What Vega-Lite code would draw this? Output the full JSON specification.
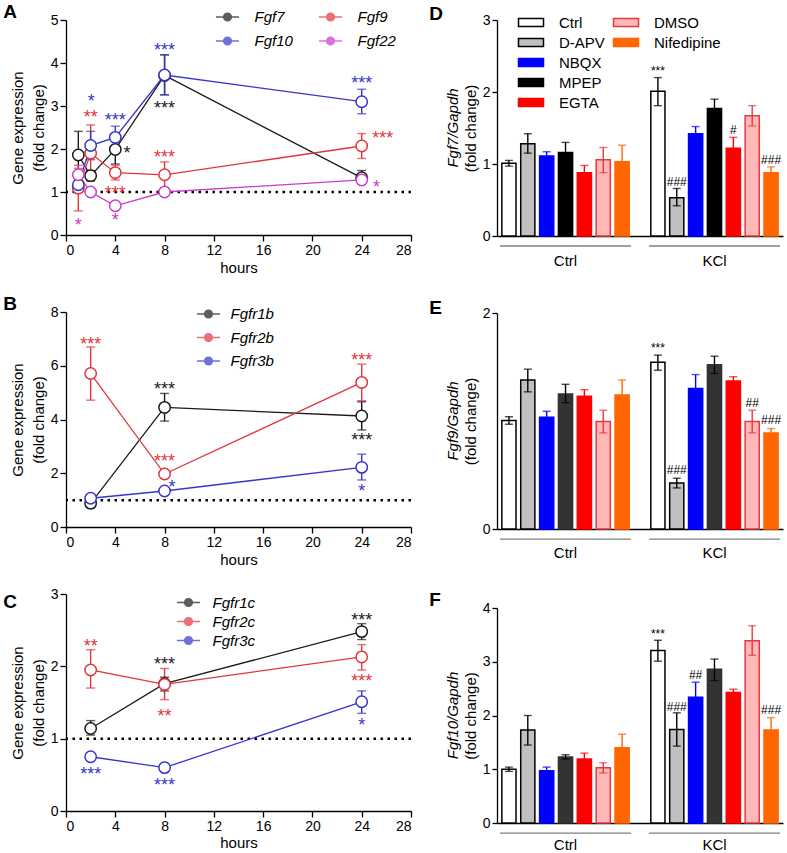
{
"$schema": "https://vega.github.io/schema/vega-lite/v6.json",
"padding": {"left": 3, "top": 3, "right": 2, "bottom": 0},
"config": {
  "font": "Liberation Sans",
  "view": {"stroke": null},
  "axis": {"grid": false, "domainColor": "#000", "tickColor": "#000", "labelColor": "#000", "titleColor": "#000", "labelFontSize": 14, "titleFontSize": 15, "titleFontWeight": "normal", "tickSize": 6, "domainWidth": 1.3, "tickWidth": 1.3, "labelPadding": 2},
  "legend": {"labelColor": "#000", "labelFont": "Liberation Sans"},
  "title": {"color": "#000", "font": "Liberation Sans"}
},
"datasets": {
  "A": [
    {"gene": "Fgf7", "h": 1, "m": 1.86, "lo": 1.33, "hi": 2.41},
    {"gene": "Fgf7", "h": 2, "m": 1.38, "lo": 1.26, "hi": 1.5},
    {"gene": "Fgf7", "h": 4, "m": 1.99, "lo": 1.65, "hi": 2.3},
    {"gene": "Fgf7", "h": 8, "m": 3.71, "lo": 3.26, "hi": 4.19},
    {"gene": "Fgf7", "h": 24, "m": 1.33, "lo": 1.23, "hi": 1.5},
    {"gene": "Fgf9", "h": 1, "m": 1.09, "lo": 0.56, "hi": 1.62},
    {"gene": "Fgf9", "h": 2, "m": 1.9, "lo": 1.26, "hi": 2.56},
    {"gene": "Fgf9", "h": 4, "m": 1.45, "lo": 1.28, "hi": 1.62},
    {"gene": "Fgf9", "h": 8, "m": 1.4, "lo": 1.1, "hi": 1.7},
    {"gene": "Fgf9", "h": 24, "m": 2.07, "lo": 1.78, "hi": 2.36},
    {"gene": "Fgf10", "h": 1, "m": 1.17, "lo": 1.0, "hi": 1.36},
    {"gene": "Fgf10", "h": 2, "m": 2.08, "lo": 1.75, "hi": 2.41},
    {"gene": "Fgf10", "h": 4, "m": 2.27, "lo": 2.05, "hi": 2.53},
    {"gene": "Fgf10", "h": 8, "m": 3.72, "lo": 3.26, "hi": 4.19},
    {"gene": "Fgf10", "h": 24, "m": 3.1, "lo": 2.82, "hi": 3.39},
    {"gene": "Fgf22", "h": 1, "m": 1.4, "lo": 1.25, "hi": 1.55},
    {"gene": "Fgf22", "h": 2, "m": 1.0, "lo": 0.93, "hi": 1.07},
    {"gene": "Fgf22", "h": 4, "m": 0.68, "lo": 0.62, "hi": 0.74},
    {"gene": "Fgf22", "h": 8, "m": 1.0, "lo": 0.97, "hi": 1.03},
    {"gene": "Fgf22", "h": 24, "m": 1.28, "lo": 1.25, "hi": 1.31}
  ],
  "As": [
    {"gene": "Fgf10", "h": 2.05, "y": 3.22, "t": "*"},
    {"gene": "Fgf9", "h": 2.0, "y": 2.84, "t": "**"},
    {"gene": "Fgf10", "h": 4.0, "y": 2.76, "t": "***"},
    {"gene": "Fgf7", "h": 4.95, "y": 1.99, "t": "*"},
    {"gene": "Fgf9", "h": 4.0, "y": 1.08, "t": "***"},
    {"gene": "Fgf22", "h": 4.0, "y": 0.44, "t": "*"},
    {"gene": "Fgf22", "h": 1.0, "y": 0.32, "t": "*"},
    {"gene": "Fgf10", "h": 8.0, "y": 4.39, "t": "***"},
    {"gene": "Fgf7", "h": 8.0, "y": 3.05, "t": "***"},
    {"gene": "Fgf9", "h": 8.0, "y": 1.91, "t": "***"},
    {"gene": "Fgf10", "h": 24.0, "y": 3.63, "t": "***"},
    {"gene": "Fgf9", "h": 25.7, "y": 2.35, "t": "***"},
    {"gene": "Fgf22", "h": 25.2, "y": 1.2, "t": "*"}
  ],
  "B": [
    {"gene": "Fgfr1b", "h": 2, "m": 0.88, "lo": 0.84, "hi": 0.92},
    {"gene": "Fgfr1b", "h": 8, "m": 4.45, "lo": 3.94, "hi": 4.97},
    {"gene": "Fgfr1b", "h": 24, "m": 4.13, "lo": 3.61, "hi": 4.66},
    {"gene": "Fgfr2b", "h": 2, "m": 5.71, "lo": 4.72, "hi": 6.7},
    {"gene": "Fgfr2b", "h": 8, "m": 1.97, "lo": 1.9, "hi": 2.05},
    {"gene": "Fgfr2b", "h": 24, "m": 5.38, "lo": 4.7, "hi": 6.06},
    {"gene": "Fgfr3b", "h": 2, "m": 1.07, "lo": 1.02, "hi": 1.12},
    {"gene": "Fgfr3b", "h": 8, "m": 1.34, "lo": 1.28, "hi": 1.4},
    {"gene": "Fgfr3b", "h": 24, "m": 2.22, "lo": 1.75, "hi": 2.71}
  ],
  "Bs": [
    {"gene": "Fgfr2b", "h": 2, "y": 6.95, "t": "***"},
    {"gene": "Fgfr1b", "h": 8, "y": 5.28, "t": "***"},
    {"gene": "Fgfr2b", "h": 8, "y": 2.61, "t": "***"},
    {"gene": "Fgfr3b", "h": 8.6, "y": 1.65, "t": "*"},
    {"gene": "Fgfr2b", "h": 24, "y": 6.36, "t": "***"},
    {"gene": "Fgfr1b", "h": 24, "y": 3.38, "t": "***"},
    {"gene": "Fgfr3b", "h": 24, "y": 1.5, "t": "*"}
  ],
  "C": [
    {"gene": "Fgfr1c", "h": 2, "m": 1.14, "lo": 1.05, "hi": 1.25},
    {"gene": "Fgfr1c", "h": 8, "m": 1.76, "lo": 1.66, "hi": 1.85},
    {"gene": "Fgfr1c", "h": 24, "m": 2.48, "lo": 2.37, "hi": 2.59},
    {"gene": "Fgfr2c", "h": 2, "m": 1.95, "lo": 1.7, "hi": 2.23},
    {"gene": "Fgfr2c", "h": 8, "m": 1.75, "lo": 1.54, "hi": 1.97},
    {"gene": "Fgfr2c", "h": 24, "m": 2.13, "lo": 1.95, "hi": 2.3},
    {"gene": "Fgfr3c", "h": 2, "m": 0.75, "lo": 0.72, "hi": 0.78},
    {"gene": "Fgfr3c", "h": 8, "m": 0.6, "lo": 0.55, "hi": 0.65},
    {"gene": "Fgfr3c", "h": 24, "m": 1.51, "lo": 1.35, "hi": 1.66}
  ],
  "Cs": [
    {"gene": "Fgfr2c", "h": 2, "y": 2.33, "t": "**"},
    {"gene": "Fgfr1c", "h": 8, "y": 2.09, "t": "***"},
    {"gene": "Fgfr2c", "h": 8, "y": 1.37, "t": "**"},
    {"gene": "Fgfr3c", "h": 2, "y": 0.57, "t": "***"},
    {"gene": "Fgfr3c", "h": 8, "y": 0.41, "t": "***"},
    {"gene": "Fgfr1c", "h": 24, "y": 2.7, "t": "***"},
    {"gene": "Fgfr2c", "h": 24, "y": 1.85, "t": "***"},
    {"gene": "Fgfr3c", "h": 24, "y": 1.25, "t": "*"}
  ],
  "D": [
    {"cond": "Ctrl", "treat": "Ctrl", "m": 1.01, "lo": 0.97, "hi": 1.05},
    {"cond": "Ctrl", "treat": "D-APV", "m": 1.28, "lo": 1.15, "hi": 1.42},
    {"cond": "Ctrl", "treat": "NBQX", "m": 1.11, "lo": 1.05, "hi": 1.17},
    {"cond": "Ctrl", "treat": "MPEP", "m": 1.16, "lo": 1.04, "hi": 1.3},
    {"cond": "Ctrl", "treat": "EGTA", "m": 0.88, "lo": 0.8, "hi": 0.98},
    {"cond": "Ctrl", "treat": "DMSO", "m": 1.06, "lo": 0.88, "hi": 1.23},
    {"cond": "Ctrl", "treat": "Nifedipine", "m": 1.03, "lo": 0.82, "hi": 1.26},
    {"cond": "KCl", "treat": "Ctrl", "m": 2.01, "lo": 1.81, "hi": 2.2},
    {"cond": "KCl", "treat": "D-APV", "m": 0.53, "lo": 0.42, "hi": 0.66},
    {"cond": "KCl", "treat": "NBQX", "m": 1.42, "lo": 1.33, "hi": 1.52},
    {"cond": "KCl", "treat": "MPEP", "m": 1.77, "lo": 1.65, "hi": 1.9},
    {"cond": "KCl", "treat": "EGTA", "m": 1.22, "lo": 1.08, "hi": 1.37},
    {"cond": "KCl", "treat": "DMSO", "m": 1.67, "lo": 1.53, "hi": 1.81},
    {"cond": "KCl", "treat": "Nifedipine", "m": 0.88, "lo": 0.8, "hi": 0.96}
  ],
  "Dn": [
    {"cond": "KCl", "treat": "Ctrl", "y": 2.23, "t": "***"},
    {"cond": "KCl", "treat": "D-APV", "y": 0.69, "t": "###"},
    {"cond": "KCl", "treat": "EGTA", "y": 1.41, "t": "#"},
    {"cond": "KCl", "treat": "Nifedipine", "y": 1.0, "t": "###"}
  ],
  "E": [
    {"cond": "Ctrl", "treat": "Ctrl", "m": 1.005, "lo": 0.97, "hi": 1.04},
    {"cond": "Ctrl", "treat": "D-APV", "m": 1.38, "lo": 1.27, "hi": 1.48},
    {"cond": "Ctrl", "treat": "NBQX", "m": 1.035, "lo": 0.98, "hi": 1.09},
    {"cond": "Ctrl", "treat": "MPEP", "m": 1.25, "lo": 1.17, "hi": 1.34},
    {"cond": "Ctrl", "treat": "EGTA", "m": 1.23, "lo": 1.17, "hi": 1.29},
    {"cond": "Ctrl", "treat": "DMSO", "m": 0.995, "lo": 0.89, "hi": 1.1},
    {"cond": "Ctrl", "treat": "Nifedipine", "m": 1.24, "lo": 1.1, "hi": 1.38},
    {"cond": "KCl", "treat": "Ctrl", "m": 1.545, "lo": 1.47, "hi": 1.61},
    {"cond": "KCl", "treat": "D-APV", "m": 0.427, "lo": 0.38, "hi": 0.47},
    {"cond": "KCl", "treat": "NBQX", "m": 1.3, "lo": 1.17, "hi": 1.43},
    {"cond": "KCl", "treat": "MPEP", "m": 1.52, "lo": 1.44, "hi": 1.6},
    {"cond": "KCl", "treat": "EGTA", "m": 1.37, "lo": 1.33, "hi": 1.41},
    {"cond": "KCl", "treat": "DMSO", "m": 0.995, "lo": 0.89, "hi": 1.1},
    {"cond": "KCl", "treat": "Nifedipine", "m": 0.89, "lo": 0.85, "hi": 0.93}
  ],
  "En": [
    {"cond": "KCl", "treat": "Ctrl", "y": 1.64, "t": "***"},
    {"cond": "KCl", "treat": "D-APV", "y": 0.51, "t": "###"},
    {"cond": "KCl", "treat": "DMSO", "y": 1.13, "t": "##"},
    {"cond": "KCl", "treat": "Nifedipine", "y": 0.97, "t": "###"}
  ],
  "F": [
    {"cond": "Ctrl", "treat": "Ctrl", "m": 1.0, "lo": 0.96, "hi": 1.04},
    {"cond": "Ctrl", "treat": "D-APV", "m": 1.73, "lo": 1.45, "hi": 2.0},
    {"cond": "Ctrl", "treat": "NBQX", "m": 0.97, "lo": 0.9, "hi": 1.04},
    {"cond": "Ctrl", "treat": "MPEP", "m": 1.23, "lo": 1.19, "hi": 1.27},
    {"cond": "Ctrl", "treat": "EGTA", "m": 1.19, "lo": 1.08, "hi": 1.3},
    {"cond": "Ctrl", "treat": "DMSO", "m": 1.03, "lo": 0.93, "hi": 1.12},
    {"cond": "Ctrl", "treat": "Nifedipine", "m": 1.4, "lo": 1.15, "hi": 1.65},
    {"cond": "KCl", "treat": "Ctrl", "m": 3.21, "lo": 3.01, "hi": 3.4},
    {"cond": "KCl", "treat": "D-APV", "m": 1.74, "lo": 1.43, "hi": 2.05},
    {"cond": "KCl", "treat": "NBQX", "m": 2.34, "lo": 2.06, "hi": 2.62},
    {"cond": "KCl", "treat": "MPEP", "m": 2.86, "lo": 2.65, "hi": 3.05},
    {"cond": "KCl", "treat": "EGTA", "m": 2.43, "lo": 2.37, "hi": 2.49},
    {"cond": "KCl", "treat": "DMSO", "m": 3.39, "lo": 3.12, "hi": 3.67},
    {"cond": "KCl", "treat": "Nifedipine", "m": 1.73, "lo": 1.5, "hi": 1.96}
  ],
  "Fn": [
    {"cond": "KCl", "treat": "Ctrl", "y": 3.44, "t": "***"},
    {"cond": "KCl", "treat": "D-APV", "y": 2.09, "t": "###"},
    {"cond": "KCl", "treat": "NBQX", "y": 2.68, "t": "##"},
    {"cond": "KCl", "treat": "Nifedipine", "y": 2.02, "t": "###"}
  ]
},
"spacing": 16,
"resolve": {"scale": {"color": "independent", "fill": "independent", "stroke": "independent", "xOffset": "independent"}, "legend": {"color": "independent", "fill": "independent", "stroke": "independent"}},
"hconcat": [
 {"spacing": 20,
  "resolve": {"scale": {"color": "independent", "fill": "independent", "stroke": "independent", "xOffset": "independent"}, "legend": {"color": "independent", "fill": "independent", "stroke": "independent"}},
  "vconcat": [
  {"width": 345, "height": 215,
   "title": {"text": "A", "anchor": "start", "frame": "bounds", "dx": -7, "offset": -15, "fontSize": 19, "fontWeight": "bold"},
   "layer": [
    {"data": {"values": [{}]}, "mark": {"type": "rule", "strokeDash": [2.5, 4.5], "strokeWidth": 2.5, "color": "#000"}, "encoding": {"y": {"datum": 1, "type": "quantitative"}}},
    {"data": {"name": "A"}, "mark": {"type": "rule", "strokeWidth": 1.4}, "encoding": {
      "x": {"field": "h", "type": "quantitative", "scale": {"domain": [0, 28], "nice": false}, "axis": {"values": [0, 4, 8, 12, 16, 20, 24, 28], "title": "hours", "titlePadding": 3}},
      "y": {"field": "lo", "type": "quantitative", "scale": {"domain": [0, 5], "nice": false}, "axis": {"values": [0, 1, 2, 3, 4, 5], "format": "d", "title": ["Gene expression", "(fold change)"], "titleLineHeight": 21, "titlePadding": 4}},
      "y2": {"field": "hi"},
      "color": {"field": "gene", "type": "nominal", "scale": {"domain": ["Fgf7", "Fgf10", "Fgf9", "Fgf22"], "range": ["#1a1a1a", "#3535cc", "#e3343c", "#c83cc8"]},
        "legend": {"orient": "none", "legendX": 151.5, "legendY": -13, "columns": 2, "title": null, "symbolType": "M-1.28,0H-0.44M0.44,0H1.28M-0.44,0A0.44,0.44 0 1,1 0.44,0A0.44,0.44 0 1,1 -0.44,0", "symbolSize": 324, "symbolStrokeWidth": 1.3, "labelFontSize": 15, "labelFontStyle": "italic", "labelOffset": 17, "columnPadding": 22, "rowPadding": 6}}}},
    {"data": {"name": "A"}, "mark": {"type": "tick", "orient": "horizontal", "size": 9, "thickness": 1.4}, "encoding": {"x": {"field": "h", "type": "quantitative"}, "y": {"field": "lo", "type": "quantitative"}, "color": {"field": "gene", "type": "nominal"}}},
    {"data": {"name": "A"}, "mark": {"type": "tick", "orient": "horizontal", "size": 9, "thickness": 1.4}, "encoding": {"x": {"field": "h", "type": "quantitative"}, "y": {"field": "hi", "type": "quantitative"}, "color": {"field": "gene", "type": "nominal"}}},
    {"data": {"name": "A"}, "mark": {"type": "line", "strokeWidth": 1.3}, "encoding": {"x": {"field": "h", "type": "quantitative"}, "y": {"field": "m", "type": "quantitative"}, "color": {"field": "gene", "type": "nominal"}}},
    {"data": {"name": "A"}, "mark": {"type": "point", "filled": false, "fill": "white", "fillOpacity": 1, "size": 130, "strokeWidth": 1.5, "opacity": 1}, "encoding": {"x": {"field": "h", "type": "quantitative"}, "y": {"field": "m", "type": "quantitative"}, "color": {"field": "gene", "type": "nominal"}}},
    {"data": {"name": "As"}, "mark": {"type": "text", "fontSize": 18, "baseline": "alphabetic", "dy": 10}, "encoding": {"x": {"field": "h", "type": "quantitative"}, "y": {"field": "y", "type": "quantitative"}, "text": {"field": "t"}, "color": {"field": "gene", "type": "nominal"}}}
   ]},
  {"width": 345, "height": 215,
   "title": {"text": "B", "anchor": "start", "frame": "bounds", "dx": -7, "offset": -10, "fontSize": 19, "fontWeight": "bold"},
   "layer": [
    {"data": {"values": [{}]}, "mark": {"type": "rule", "strokeDash": [2.5, 4.5], "strokeWidth": 2.5, "color": "#000"}, "encoding": {"y": {"datum": 1, "type": "quantitative"}}},
    {"data": {"name": "B"}, "mark": {"type": "rule", "strokeWidth": 1.4}, "encoding": {
      "x": {"field": "h", "type": "quantitative", "scale": {"domain": [0, 28], "nice": false}, "axis": {"values": [0, 4, 8, 12, 16, 20, 24, 28], "title": "hours", "titlePadding": 3}},
      "y": {"field": "lo", "type": "quantitative", "scale": {"domain": [0, 8], "nice": false}, "axis": {"values": [0, 2, 4, 6, 8], "format": "d", "title": ["Gene expression", "(fold change)"], "titleLineHeight": 21, "titlePadding": 4}},
      "y2": {"field": "hi"},
      "color": {"field": "gene", "type": "nominal", "scale": {"domain": ["Fgfr1b", "Fgfr2b", "Fgfr3b"], "range": ["#1a1a1a", "#e3343c", "#3535cc"]},
        "legend": {"orient": "none", "legendX": 132.5, "legendY": -8, "title": null, "symbolType": "M-1.28,0H-0.44M0.44,0H1.28M-0.44,0A0.44,0.44 0 1,1 0.44,0A0.44,0.44 0 1,1 -0.44,0", "symbolSize": 324, "symbolStrokeWidth": 1.3, "labelFontSize": 15, "labelFontStyle": "italic", "labelOffset": 12, "rowPadding": 5.5}}}},
    {"data": {"name": "B"}, "mark": {"type": "tick", "orient": "horizontal", "size": 9, "thickness": 1.4}, "encoding": {"x": {"field": "h", "type": "quantitative"}, "y": {"field": "lo", "type": "quantitative"}, "color": {"field": "gene", "type": "nominal"}}},
    {"data": {"name": "B"}, "mark": {"type": "tick", "orient": "horizontal", "size": 9, "thickness": 1.4}, "encoding": {"x": {"field": "h", "type": "quantitative"}, "y": {"field": "hi", "type": "quantitative"}, "color": {"field": "gene", "type": "nominal"}}},
    {"data": {"name": "B"}, "mark": {"type": "line", "strokeWidth": 1.3}, "encoding": {"x": {"field": "h", "type": "quantitative"}, "y": {"field": "m", "type": "quantitative"}, "color": {"field": "gene", "type": "nominal"}}},
    {"data": {"name": "B"}, "mark": {"type": "point", "filled": false, "fill": "white", "fillOpacity": 1, "size": 130, "strokeWidth": 1.5, "opacity": 1}, "encoding": {"x": {"field": "h", "type": "quantitative"}, "y": {"field": "m", "type": "quantitative"}, "color": {"field": "gene", "type": "nominal"}}},
    {"data": {"name": "Bs"}, "mark": {"type": "text", "fontSize": 18, "baseline": "alphabetic", "dy": 10}, "encoding": {"x": {"field": "h", "type": "quantitative"}, "y": {"field": "y", "type": "quantitative"}, "text": {"field": "t"}, "color": {"field": "gene", "type": "nominal"}}}
   ]},
  {"width": 345, "height": 217,
   "title": {"text": "C", "anchor": "start", "frame": "bounds", "dx": -7, "offset": -25, "fontSize": 19, "fontWeight": "bold"},
   "layer": [
    {"data": {"values": [{}]}, "mark": {"type": "rule", "strokeDash": [2.5, 4.5], "strokeWidth": 2.5, "color": "#000"}, "encoding": {"y": {"datum": 1, "type": "quantitative"}}},
    {"data": {"name": "C"}, "mark": {"type": "rule", "strokeWidth": 1.4}, "encoding": {
      "x": {"field": "h", "type": "quantitative", "scale": {"domain": [0, 28], "nice": false}, "axis": {"values": [0, 4, 8, 12, 16, 20, 24, 28], "title": "hours", "titlePadding": 2}},
      "y": {"field": "lo", "type": "quantitative", "scale": {"domain": [0, 3], "nice": false}, "axis": {"values": [0, 1, 2, 3], "format": "d", "title": ["Gene expression", "(fold change)"], "titleLineHeight": 21, "titlePadding": 4}},
      "y2": {"field": "hi"},
      "color": {"field": "gene", "type": "nominal", "scale": {"domain": ["Fgfr1c", "Fgfr2c", "Fgfr3c"], "range": ["#1a1a1a", "#e3343c", "#3535cc"]},
        "legend": {"orient": "none", "legendX": 112.5, "legendY": -1.5, "title": null, "symbolType": "M-1.28,0H-0.44M0.44,0H1.28M-0.44,0A0.44,0.44 0 1,1 0.44,0A0.44,0.44 0 1,1 -0.44,0", "symbolSize": 324, "symbolStrokeWidth": 1.3, "labelFontSize": 15, "labelFontStyle": "italic", "labelOffset": 14, "rowPadding": 1}}}},
    {"data": {"name": "C"}, "mark": {"type": "tick", "orient": "horizontal", "size": 9, "thickness": 1.4}, "encoding": {"x": {"field": "h", "type": "quantitative"}, "y": {"field": "lo", "type": "quantitative"}, "color": {"field": "gene", "type": "nominal"}}},
    {"data": {"name": "C"}, "mark": {"type": "tick", "orient": "horizontal", "size": 9, "thickness": 1.4}, "encoding": {"x": {"field": "h", "type": "quantitative"}, "y": {"field": "hi", "type": "quantitative"}, "color": {"field": "gene", "type": "nominal"}}},
    {"data": {"name": "C"}, "mark": {"type": "line", "strokeWidth": 1.3}, "encoding": {"x": {"field": "h", "type": "quantitative"}, "y": {"field": "m", "type": "quantitative"}, "color": {"field": "gene", "type": "nominal"}}},
    {"data": {"name": "C"}, "mark": {"type": "point", "filled": false, "fill": "white", "fillOpacity": 1, "size": 130, "strokeWidth": 1.5, "opacity": 1}, "encoding": {"x": {"field": "h", "type": "quantitative"}, "y": {"field": "m", "type": "quantitative"}, "color": {"field": "gene", "type": "nominal"}}},
    {"data": {"name": "Cs"}, "mark": {"type": "text", "fontSize": 18, "baseline": "alphabetic", "dy": 10}, "encoding": {"x": {"field": "h", "type": "quantitative"}, "y": {"field": "y", "type": "quantitative"}, "text": {"field": "t"}, "color": {"field": "gene", "type": "nominal"}}}
   ]}
 ]},
 {"spacing": 31,
  "resolve": {"scale": {"color": "independent", "fill": "independent", "stroke": "independent", "xOffset": "independent"}, "legend": {"color": "independent", "fill": "independent", "stroke": "independent"}},
  "vconcat": [
  {"title": {"text": "D", "anchor": "start", "frame": "bounds", "dx": -17, "offset": -12, "fontSize": 19, "fontWeight": "bold"},
   "vconcat": [{
    "width": 286, "height": 216,
    "title": {"text": "Fgf7/Gapdh", "orient": "left", "anchor": "middle", "fontStyle": "italic", "fontWeight": "normal", "fontSize": 15, "offset": 2},
    "resolve": {"scale": {"fill": "independent", "stroke": "independent"}},
    "layer": [
     {"data": {"values": [{"cond": "Ctrl"}, {"cond": "KCl"}]}, "mark": {"type": "bar", "color": "#808080"}, "encoding": {
       "x": {"field": "cond", "type": "nominal", "scale": {"domain": ["Ctrl", "KCl"], "paddingInner": 0.12, "paddingOuter": 0.02}, "axis": {"title": null, "labelAngle": 0, "ticks": false, "labelPadding": 17, "labelFontSize": 15}},
       "y": {"datum": -0.13, "type": "quantitative"}, "y2": {"datum": -0.15}}},
     {"data": {"name": "D"}, "transform": [{"filter": {"field": "treat", "oneOf": ["Ctrl", "D-APV", "NBQX", "MPEP", "EGTA"]}}], "mark": {"type": "bar", "strokeWidth": 1.5}, "encoding": {
       "x": {"field": "cond", "type": "nominal"},
       "xOffset": {"field": "treat", "type": "nominal", "scale": {"domain": ["Ctrl", "D-APV", "NBQX", "MPEP", "EGTA", "DMSO", "Nifedipine"], "paddingInner": 0.25, "paddingOuter": 0.1}},
       "y": {"field": "m", "type": "quantitative", "scale": {"domain": [0, 3], "nice": false}, "axis": {"values": [0, 1, 2, 3], "format": "d", "title": "(fold change)", "titlePadding": 4, "tickSize": 5}},
       "fill": {"field": "treat", "type": "nominal", "scale": {"domain": ["Ctrl", "D-APV", "NBQX", "MPEP", "EGTA"], "range": ["#ffffff", "#c0c0c0", "#0000ff", "#000000", "#ff0000"]},
         "legend": {"orient": "none", "legendX": 23, "legendY": -8.5, "title": null, "symbolType": "M-1.25,-0.4H1.25V0.4H-1.25Z", "symbolSize": 400, "symbolStrokeWidth": 1.5, "labelFontSize": 15, "labelOffset": 17, "rowPadding": 1}},
       "stroke": {"field": "treat", "type": "nominal", "scale": {"domain": ["Ctrl", "D-APV", "NBQX", "MPEP", "EGTA"], "range": ["#000000", "#000000", "#0000ff", "#000000", "#ff0000"]},
         "legend": {"orient": "none", "legendX": 23, "legendY": -8.5, "title": null, "symbolType": "M-1.25,-0.4H1.25V0.4H-1.25Z", "symbolSize": 400, "symbolStrokeWidth": 1.5, "labelFontSize": 15, "labelOffset": 17, "rowPadding": 1}}}},
     {"data": {"name": "D"}, "transform": [{"filter": {"field": "treat", "oneOf": ["DMSO", "Nifedipine"]}}], "mark": {"type": "bar", "strokeWidth": 1.5}, "encoding": {
       "x": {"field": "cond", "type": "nominal"},
       "xOffset": {"field": "treat", "type": "nominal"},
       "y": {"field": "m", "type": "quantitative"},
       "fill": {"field": "treat", "type": "nominal", "scale": {"domain": ["DMSO", "Nifedipine"], "range": ["#ffb8b8", "#ff6600"]},
         "legend": {"orient": "none", "legendX": 118, "legendY": -8.5, "title": null, "symbolType": "M-1.25,-0.4H1.25V0.4H-1.25Z", "symbolSize": 400, "symbolStrokeWidth": 1.5, "labelFontSize": 15, "labelOffset": 17, "rowPadding": 1}},
       "stroke": {"field": "treat", "type": "nominal", "scale": {"domain": ["DMSO", "Nifedipine"], "range": ["#e8383d", "#ff6600"]},
         "legend": {"orient": "none", "legendX": 118, "legendY": -8.5, "title": null, "symbolType": "M-1.25,-0.4H1.25V0.4H-1.25Z", "symbolSize": 400, "symbolStrokeWidth": 1.5, "labelFontSize": 15, "labelOffset": 17, "rowPadding": 1}}}},
     {"data": {"name": "D"}, "mark": {"type": "rule", "strokeWidth": 1.4}, "encoding": {"x": {"field": "cond", "type": "nominal"}, "xOffset": {"field": "treat", "type": "nominal"}, "y": {"field": "lo", "type": "quantitative"}, "y2": {"field": "hi"},
       "color": {"field": "treat", "type": "nominal", "scale": {"domain": ["Ctrl", "D-APV", "NBQX", "MPEP", "EGTA", "DMSO", "Nifedipine"], "range": ["#000000", "#000000", "#0000ff", "#000000", "#ff0000", "#e8383d", "#ff6600"]}, "legend": null}}},
     {"data": {"name": "D"}, "mark": {"type": "tick", "orient": "horizontal", "size": 8, "thickness": 1.4}, "encoding": {"x": {"field": "cond", "type": "nominal"}, "xOffset": {"field": "treat", "type": "nominal"}, "y": {"field": "lo", "type": "quantitative"}, "color": {"field": "treat", "type": "nominal", "legend": null}}},
     {"data": {"name": "D"}, "mark": {"type": "tick", "orient": "horizontal", "size": 8, "thickness": 1.4}, "encoding": {"x": {"field": "cond", "type": "nominal"}, "xOffset": {"field": "treat", "type": "nominal"}, "y": {"field": "hi", "type": "quantitative"}, "color": {"field": "treat", "type": "nominal", "legend": null}}},
     {"data": {"name": "Dn"}, "mark": {"type": "text", "fontSize": 12, "baseline": "alphabetic", "color": "#000"}, "encoding": {"x": {"field": "cond", "type": "nominal"}, "xOffset": {"field": "treat", "type": "nominal"}, "y": {"field": "y", "type": "quantitative"}, "text": {"field": "t"}}}
    ]}]},
  {"title": {"text": "E", "anchor": "start", "frame": "bounds", "dx": -17, "offset": -12, "fontSize": 19, "fontWeight": "bold"},
   "vconcat": [{
    "width": 286, "height": 216,
    "title": {"text": "Fgf9/Gapdh", "orient": "left", "anchor": "middle", "fontStyle": "italic", "fontWeight": "normal", "fontSize": 15, "offset": 2},
    "layer": [
     {"data": {"values": [{"cond": "Ctrl"}, {"cond": "KCl"}]}, "mark": {"type": "bar", "color": "#808080"}, "encoding": {
       "x": {"field": "cond", "type": "nominal", "scale": {"domain": ["Ctrl", "KCl"], "paddingInner": 0.12, "paddingOuter": 0.02}, "axis": {"title": null, "labelAngle": 0, "ticks": false, "labelPadding": 16, "labelFontSize": 15}},
       "y": {"datum": -0.087, "type": "quantitative"}, "y2": {"datum": -0.1}}},
     {"data": {"name": "E"}, "mark": {"type": "bar", "strokeWidth": 1.5}, "encoding": {
       "x": {"field": "cond", "type": "nominal"},
       "xOffset": {"field": "treat", "type": "nominal", "scale": {"domain": ["Ctrl", "D-APV", "NBQX", "MPEP", "EGTA", "DMSO", "Nifedipine"], "paddingInner": 0.25, "paddingOuter": 0.1}},
       "y": {"field": "m", "type": "quantitative", "scale": {"domain": [0, 2], "nice": false}, "axis": {"values": [0, 1, 2], "format": "d", "title": "(fold change)", "titlePadding": 4, "tickSize": 5}},
       "fill": {"field": "treat", "type": "nominal", "scale": {"domain": ["Ctrl", "D-APV", "NBQX", "MPEP", "EGTA", "DMSO", "Nifedipine"], "range": ["#ffffff", "#c0c0c0", "#0000ff", "#333333", "#ff0000", "#ffb8b8", "#ff6600"]}, "legend": null},
       "stroke": {"field": "treat", "type": "nominal", "scale": {"domain": ["Ctrl", "D-APV", "NBQX", "MPEP", "EGTA", "DMSO", "Nifedipine"], "range": ["#000000", "#000000", "#0000ff", "#333333", "#ff0000", "#e8383d", "#ff6600"]}, "legend": null}}},
     {"data": {"name": "E"}, "mark": {"type": "rule", "strokeWidth": 1.4}, "encoding": {"x": {"field": "cond", "type": "nominal"}, "xOffset": {"field": "treat", "type": "nominal"}, "y": {"field": "lo", "type": "quantitative"}, "y2": {"field": "hi"},
       "color": {"field": "treat", "type": "nominal", "scale": {"domain": ["Ctrl", "D-APV", "NBQX", "MPEP", "EGTA", "DMSO", "Nifedipine"], "range": ["#000000", "#000000", "#0000ff", "#000000", "#ff0000", "#e8383d", "#ff6600"]}, "legend": null}}},
     {"data": {"name": "E"}, "mark": {"type": "tick", "orient": "horizontal", "size": 8, "thickness": 1.4}, "encoding": {"x": {"field": "cond", "type": "nominal"}, "xOffset": {"field": "treat", "type": "nominal"}, "y": {"field": "lo", "type": "quantitative"}, "color": {"field": "treat", "type": "nominal", "legend": null}}},
     {"data": {"name": "E"}, "mark": {"type": "tick", "orient": "horizontal", "size": 8, "thickness": 1.4}, "encoding": {"x": {"field": "cond", "type": "nominal"}, "xOffset": {"field": "treat", "type": "nominal"}, "y": {"field": "hi", "type": "quantitative"}, "color": {"field": "treat", "type": "nominal", "legend": null}}},
     {"data": {"name": "En"}, "mark": {"type": "text", "fontSize": 12, "baseline": "alphabetic", "color": "#000"}, "encoding": {"x": {"field": "cond", "type": "nominal"}, "xOffset": {"field": "treat", "type": "nominal"}, "y": {"field": "y", "type": "quantitative"}, "text": {"field": "t"}}}
    ]}]},
  {"title": {"text": "F", "anchor": "start", "frame": "bounds", "dx": -17, "offset": -9, "fontSize": 19, "fontWeight": "bold"},
   "vconcat": [{
    "width": 286, "height": 215,
    "title": {"text": "Fgf10/Gapdh", "orient": "left", "anchor": "middle", "fontStyle": "italic", "fontWeight": "normal", "fontSize": 15, "offset": 2},
    "layer": [
     {"data": {"values": [{"cond": "Ctrl"}, {"cond": "KCl"}]}, "mark": {"type": "bar", "color": "#808080"}, "encoding": {
       "x": {"field": "cond", "type": "nominal", "scale": {"domain": ["Ctrl", "KCl"], "paddingInner": 0.12, "paddingOuter": 0.02}, "axis": {"title": null, "labelAngle": 0, "ticks": false, "labelPadding": 14, "labelFontSize": 15}},
       "y": {"datum": -0.175, "type": "quantitative"}, "y2": {"datum": -0.2}}},
     {"data": {"name": "F"}, "mark": {"type": "bar", "strokeWidth": 1.5}, "encoding": {
       "x": {"field": "cond", "type": "nominal"},
       "xOffset": {"field": "treat", "type": "nominal", "scale": {"domain": ["Ctrl", "D-APV", "NBQX", "MPEP", "EGTA", "DMSO", "Nifedipine"], "paddingInner": 0.25, "paddingOuter": 0.1}},
       "y": {"field": "m", "type": "quantitative", "scale": {"domain": [0, 4], "nice": false}, "axis": {"values": [0, 1, 2, 3, 4], "format": "d", "title": "(fold change)", "titlePadding": 4, "tickSize": 5}},
       "fill": {"field": "treat", "type": "nominal", "scale": {"domain": ["Ctrl", "D-APV", "NBQX", "MPEP", "EGTA", "DMSO", "Nifedipine"], "range": ["#ffffff", "#c0c0c0", "#0000ff", "#333333", "#ff0000", "#ffb8b8", "#ff6600"]}, "legend": null},
       "stroke": {"field": "treat", "type": "nominal", "scale": {"domain": ["Ctrl", "D-APV", "NBQX", "MPEP", "EGTA", "DMSO", "Nifedipine"], "range": ["#000000", "#000000", "#0000ff", "#333333", "#ff0000", "#e8383d", "#ff6600"]}, "legend": null}}},
     {"data": {"name": "F"}, "mark": {"type": "rule", "strokeWidth": 1.4}, "encoding": {"x": {"field": "cond", "type": "nominal"}, "xOffset": {"field": "treat", "type": "nominal"}, "y": {"field": "lo", "type": "quantitative"}, "y2": {"field": "hi"},
       "color": {"field": "treat", "type": "nominal", "scale": {"domain": ["Ctrl", "D-APV", "NBQX", "MPEP", "EGTA", "DMSO", "Nifedipine"], "range": ["#000000", "#000000", "#0000ff", "#000000", "#ff0000", "#e8383d", "#ff6600"]}, "legend": null}}},
     {"data": {"name": "F"}, "mark": {"type": "tick", "orient": "horizontal", "size": 8, "thickness": 1.4}, "encoding": {"x": {"field": "cond", "type": "nominal"}, "xOffset": {"field": "treat", "type": "nominal"}, "y": {"field": "lo", "type": "quantitative"}, "color": {"field": "treat", "type": "nominal", "legend": null}}},
     {"data": {"name": "F"}, "mark": {"type": "tick", "orient": "horizontal", "size": 8, "thickness": 1.4}, "encoding": {"x": {"field": "cond", "type": "nominal"}, "xOffset": {"field": "treat", "type": "nominal"}, "y": {"field": "hi", "type": "quantitative"}, "color": {"field": "treat", "type": "nominal", "legend": null}}},
     {"data": {"name": "Fn"}, "mark": {"type": "text", "fontSize": 12, "baseline": "alphabetic", "color": "#000"}, "encoding": {"x": {"field": "cond", "type": "nominal"}, "xOffset": {"field": "treat", "type": "nominal"}, "y": {"field": "y", "type": "quantitative"}, "text": {"field": "t"}}}
    ]}]}
 ]}
]
}
